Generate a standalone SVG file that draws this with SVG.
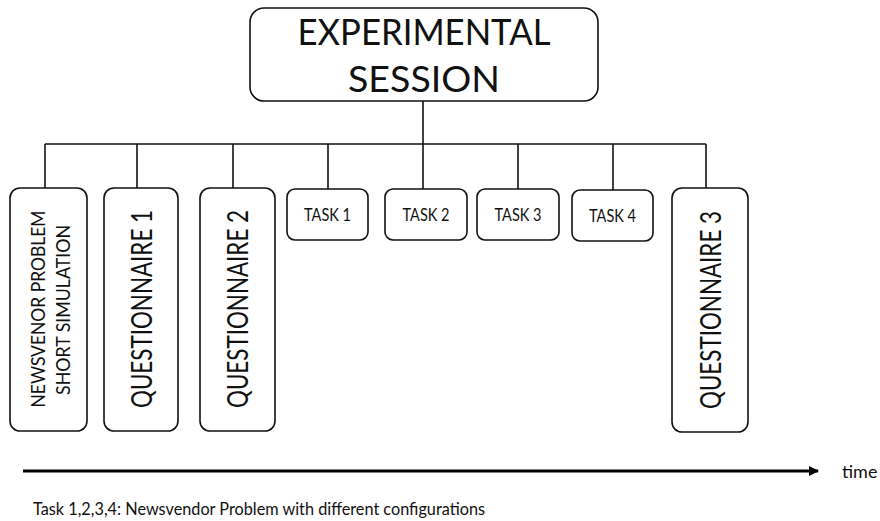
<svg xmlns="http://www.w3.org/2000/svg" width="880" height="521" viewBox="0 0 880 521">
  <style>
    .box { fill: #ffffff; stroke: #111111; stroke-width: 1.6; }
    .wire { fill: none; stroke: #111111; stroke-width: 1.6; }
    text { font-family: Lato, "Open Sans", "Liberation Sans", sans-serif; fill: #111111; }
    .title { font-size: 37px; text-anchor: middle; }
    .vlabel { text-anchor: middle; }
    .task { font-size: 17px; text-anchor: middle; }
    .note { font-size: 16.5px; }
  </style>
  <defs>
    <marker id="arrowhead" viewBox="0 0 10 10" refX="9" refY="5" markerWidth="3.2" markerHeight="3.2" orient="auto" markerUnits="strokeWidth">
      <path d="M0,0 L10,5 L0,10 Z" fill="#000000"/>
    </marker>
  </defs>

  <rect width="880" height="521" fill="#ffffff"/>

  <!-- tree connectors -->
  <g id="connectors">
    <path class="wire" d="M423,101 V189"/>
    <path class="wire" d="M45,144 H706"/>
    <path class="wire" d="M45,144 V188"/>
    <path class="wire" d="M137,144 V188"/>
    <path class="wire" d="M233,144 V188"/>
    <path class="wire" d="M328,144 V189"/>
    <path class="wire" d="M518,144 V189"/>
    <path class="wire" d="M613,144 V190"/>
    <path class="wire" d="M706,144 V188"/>
  </g>

  <g id="session">
    <rect class="box" x="250" y="8" width="348" height="93" rx="14"/>
    <text class="title" x="424" y="45" textLength="253" lengthAdjust="spacingAndGlyphs">EXPERIMENTAL</text>
    <text class="title" x="424" y="92" textLength="152" lengthAdjust="spacingAndGlyphs">SESSION</text>
  </g>

  <g id="simulation">
    <rect class="box" x="10" y="188" width="77" height="243" rx="10"/>
    <text class="vlabel" font-size="19" x="45" y="309" transform="rotate(-90 45 309)" textLength="197" lengthAdjust="spacingAndGlyphs">NEWSVENOR PROBLEM</text>
    <text class="vlabel" font-size="19" x="70" y="310" transform="rotate(-90 70 310)" textLength="170" lengthAdjust="spacingAndGlyphs">SHORT SIMULATION</text>
  </g>

  <g id="questionnaire1">
    <rect class="box" x="104" y="188" width="74" height="243" rx="10"/>
    <text class="vlabel" font-size="28" x="152" y="309" transform="rotate(-90 152 309)" textLength="198" lengthAdjust="spacingAndGlyphs">QUESTIONNAIRE 1</text>
  </g>

  <g id="questionnaire2">
    <rect class="box" x="200" y="188" width="75" height="243" rx="10"/>
    <text class="vlabel" font-size="28" x="248" y="309" transform="rotate(-90 248 309)" textLength="198" lengthAdjust="spacingAndGlyphs">QUESTIONNAIRE 2</text>
  </g>

  <g id="task1">
    <rect class="box" x="287" y="189" width="81" height="51" rx="8"/>
    <text class="task" x="327.5" y="221" textLength="47" lengthAdjust="spacingAndGlyphs">TASK 1</text>
  </g>

  <g id="task2">
    <rect class="box" x="385" y="189" width="82" height="51" rx="8"/>
    <text class="task" x="426" y="221" textLength="47" lengthAdjust="spacingAndGlyphs">TASK 2</text>
  </g>

  <g id="task3">
    <rect class="box" x="477" y="189" width="82" height="51" rx="8"/>
    <text class="task" x="518" y="221" textLength="47" lengthAdjust="spacingAndGlyphs">TASK 3</text>
  </g>

  <g id="task4">
    <rect class="box" x="572" y="190" width="81" height="51" rx="8"/>
    <text class="task" x="612.5" y="222" textLength="47" lengthAdjust="spacingAndGlyphs">TASK 4</text>
  </g>

  <g id="questionnaire3">
    <rect class="box" x="672" y="188" width="76" height="244" rx="10"/>
    <text class="vlabel" font-size="28" x="721" y="310" transform="rotate(-90 721 310)" textLength="198" lengthAdjust="spacingAndGlyphs">QUESTIONNAIRE 3</text>
  </g>

  <!-- time axis -->
  <g id="timeline">
    <line x1="23" y1="471" x2="818" y2="471" stroke="#000000" stroke-width="3.2" marker-end="url(#arrowhead)"/>
    <text x="842" y="478" font-size="18">time</text>
  </g>

  <text class="note" x="33" y="515" textLength="452" lengthAdjust="spacingAndGlyphs">Task 1,2,3,4: Newsvendor Problem with different configurations</text>
</svg>
